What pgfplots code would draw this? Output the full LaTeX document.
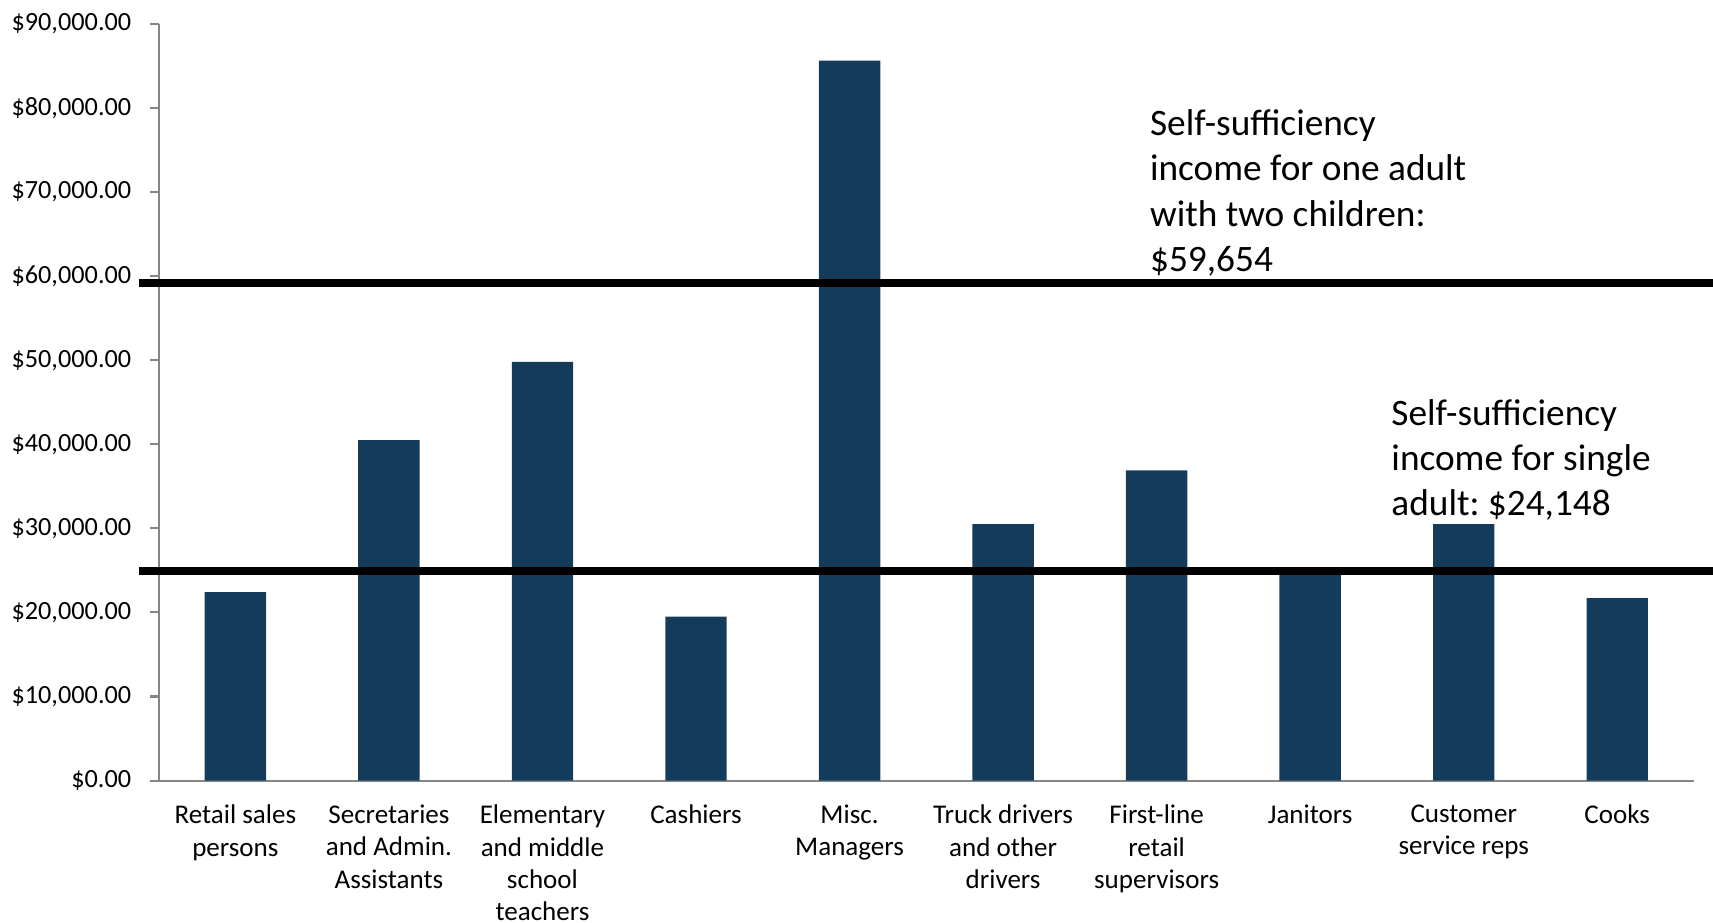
\documentclass[border=0pt]{standalone}
\usepackage{pgfplots}
\pgfplotsset{compat=1.18}
\usepackage{fontspec}
\setmainfont{Carlito}
\definecolor{barblue}{RGB}{20,60,90}
\definecolor{axisgray}{RGB}{134,134,134}
\begin{document}
\frenchspacing
\begin{tikzpicture}
\begin{axis}[
  scale only axis,
  width=590.5pt, height=291pt,
  at={(0,0)}, anchor=south west,
  xmin=-0.5, xmax=9.5,
  ymin=0, ymax=90000,
  clip=false,
  axis lines*=left,
  axis line style={axisgray, line width=0.8pt},
  every outer x axis line/.append style={-},
  every outer y axis line/.append style={-},
  ytick={0,10000,...,90000},
  yticklabel={\$\pgfmathprintnumber[fixed,fixed zerofill,precision=2,1000 sep={,}]{\tick}},
  scaled y ticks=false,
  /pgf/number format/assume math mode=true,
  yticklabel style={font=\fontsize{10.1}{12}\selectfont, xshift=-3.7pt},
  xtick={0,...,9},
  xticklabels={Retail sales\\persons, Secretaries\\and Admin.\\Assistants, Elementary\\and middle\\school\\teachers, Cashiers, Misc.\\Managers, Truck drivers\\and other\\drivers, First-line\\retail\\supervisors, Janitors, Customer\\service reps, Cooks},
  xticklabel style={font=\fontsize{10.4}{12.4}\selectfont, align=center, anchor=north, yshift=-2.6pt},
  major x tick style={draw=none},
  extra x ticks={-0.5,0.5,...,9.5},
  extra x tick labels={},
  extra x tick style={major tick length=3.3pt, tick align=outside, tick style={axisgray, line width=0.8pt}},
  tick align=outside,
  major tick length=3.3pt,
  tick style={axisgray, line width=0.8pt},
]
\addplot[ybar, bar width=0.4, fill=barblue, draw=none, bar shift=0pt] coordinates {
  (0,22400) (1,40500) (2,49800) (3,19500) (4,85650)
  (5,30500) (6,36900) (7,25000) (8,30500) (9,21700)
};
\addplot[black, line width=3.1pt, forget plot] coordinates {(-0.628,59200) (9.63,59200)};
\addplot[black, line width=3.1pt, forget plot] coordinates {(-0.628,24900) (9.63,24900)};
\node[anchor=north west, align=left, inner sep=0pt, font=\fontsize{14.35}{17.4}\selectfont] at (axis cs:5.954,79850) {Self-sufficiency\\income for one adult\\with two children:\\\$59,654};
\node[anchor=north west, align=left, inner sep=0pt, font=\fontsize{14.35}{17.4}\selectfont] at (axis cs:7.526,45400) {Self-sufficiency\\income for single\\adult: \$24,148};
\end{axis}
\pgfresetboundingbox
\path[use as bounding box] (-61pt,-54.7pt) rectangle (597.8pt,300.2pt);
\end{tikzpicture}
\end{document}
